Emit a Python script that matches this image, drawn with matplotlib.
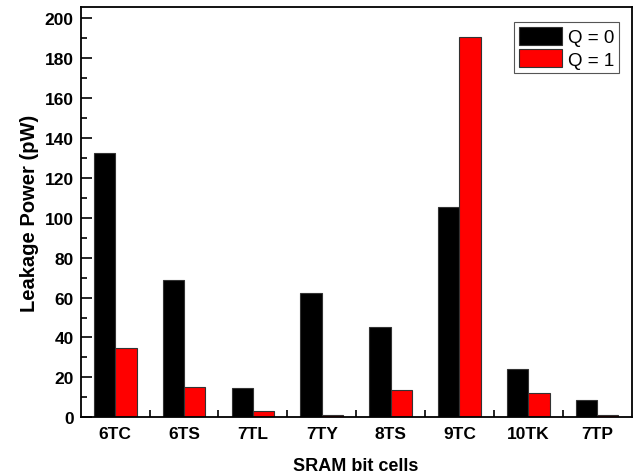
import matplotlib
matplotlib.use("Agg")
import matplotlib.pyplot as plt
import numpy as np
from matplotlib.ticker import MultipleLocator, FixedLocator

categories = ["6TC", "6TS", "7TL", "7TY", "8TS", "9TC", "10TK", "7TP"]
q0 = [132.3, 68.8, 14.8, 62.5, 45.1, 105.3, 24.2, 8.5]
q1 = [34.7, 15.0, 3.3, 1.3, 13.7, 190.6, 12.0, 1.1]

plt.rcParams['font.family'] = ['Liberation Sans', 'DejaVu Sans']

fig = plt.figure(figsize=(6.36, 4.77), dpi=100)
ax = fig.add_axes([0.127, 0.123, 0.866, 0.860])

x = np.arange(len(categories))
w = 0.31
ax.bar(x - w/2, q0, w, color='black', edgecolor='#333333', linewidth=0.8, label='Q = 0')
ax.bar(x + w/2, q1, w, color='#ff0000', edgecolor='#333333', linewidth=0.8, label='Q = 1')

ax.set_xlim(-0.5, len(categories) - 0.5)
ax.set_ylim(0, 205.5)
ax.set_xticks(x)
ax.set_xticklabels(categories, fontsize=12.5, fontweight='bold')
ax.xaxis.set_minor_locator(FixedLocator(np.arange(0.5, len(categories) - 0.5, 1)))
ax.tick_params(axis='x', which='major', length=0, pad=6)
ax.tick_params(axis='x', which='minor', direction='in', length=5, width=1.2)
ax.yaxis.set_major_locator(MultipleLocator(20))
ax.yaxis.set_minor_locator(MultipleLocator(10))
ax.tick_params(axis='y', which='major', direction='in', length=8, width=1.2, labelsize=12.5, pad=5)
ax.tick_params(axis='y', which='minor', direction='in', length=4, width=1.2)
for lab in ax.get_yticklabels():
    lab.set_fontweight('bold')
for s in ax.spines.values():
    s.set_linewidth(1.3)

ax.set_xlabel('SRAM bit cells', fontsize=13, fontweight='bold', labelpad=12)
ax.set_ylabel('Leakage Power (pW)', fontsize=14.5, fontweight='bold', labelpad=4)

leg = ax.legend(loc='upper right', fontsize=13.5, handlelength=2.3, handleheight=1.1,
                fancybox=False, edgecolor='#555555', framealpha=1,
                borderpad=0.25, labelspacing=0.15, handletextpad=0.3,
                borderaxespad=0, bbox_to_anchor=(0.977, 0.963))
leg.get_frame().set_linewidth(0.8)

fig.savefig('out.png', dpi=100)
